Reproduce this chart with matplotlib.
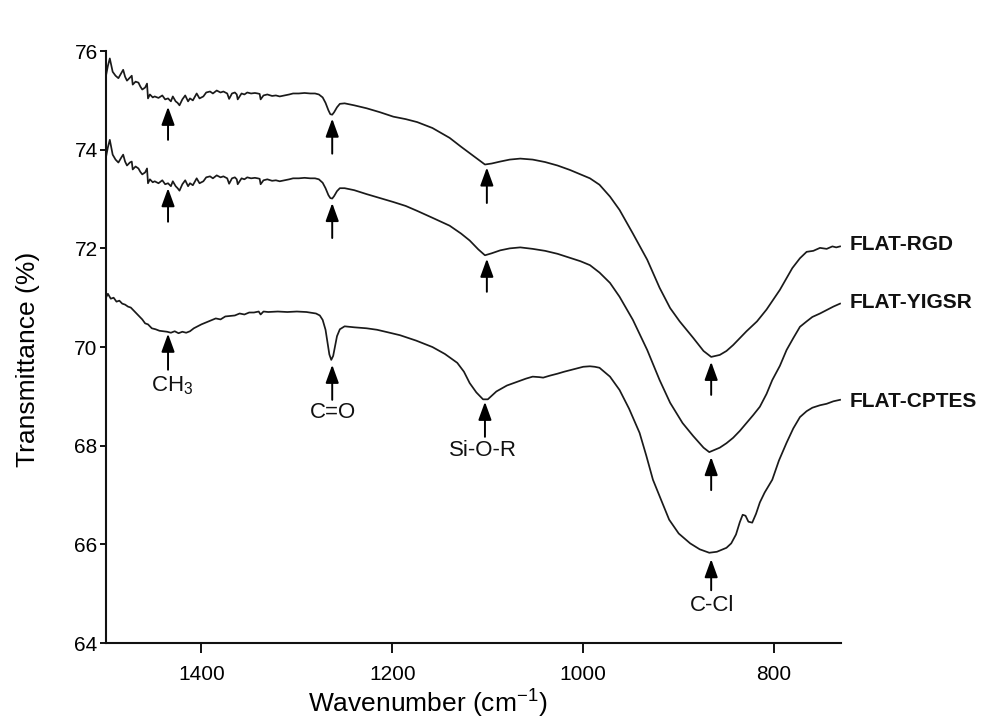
import matplotlib
matplotlib.use("Agg")
import matplotlib.pyplot as plt

plt.rcParams['font.family'] = ['Liberation Sans', 'DejaVu Sans']
plt.rcParams['mathtext.fontset'] = 'custom'
plt.rcParams['mathtext.rm'] = 'Liberation Sans'
plt.rcParams['mathtext.it'] = 'Liberation Sans:italic'
plt.rcParams['mathtext.bf'] = 'Liberation Sans:bold'

# ---------------- data ----------------
wn_rgd = [1500, 1498, 1496, 1493, 1490, 1487, 1484, 1482, 1480, 1478, 1475, 1473, 1472, 1469,
          1466, 1464, 1462, 1459, 1457, 1456, 1454, 1451, 1449, 1445, 1441, 1438, 1435, 1432,
          1430, 1427, 1425, 1423, 1420, 1417, 1414, 1412, 1409, 1405, 1402, 1398, 1395, 1391,
          1388, 1384, 1380, 1377, 1373, 1371, 1368, 1365, 1363, 1362, 1358, 1355, 1352, 1348,
          1344, 1341, 1339, 1338, 1335, 1331, 1326, 1322, 1318, 1313, 1308, 1304, 1298, 1292,
          1286, 1281, 1277, 1273, 1270, 1267, 1265, 1263, 1261, 1258, 1255, 1250, 1240, 1227,
          1213, 1199, 1186, 1174, 1158, 1140, 1128, 1119, 1110, 1103, 1096, 1087, 1077, 1066,
          1053, 1040, 1027, 1014, 1003, 993, 983, 972, 962, 948, 933, 920, 909, 899, 885, 874,
          866, 857, 850, 843, 836, 829, 818, 808, 794, 781, 773, 766, 759, 752, 745, 739, 735, 731]
t_rgd = [75.50, 75.70, 75.85, 75.58, 75.50, 75.45, 75.55, 75.62, 75.48, 75.40, 75.46, 75.50, 75.32, 75.38,
         75.36, 75.28, 75.22, 75.26, 75.34, 75.04, 75.12, 75.06, 75.08, 75.05, 75.10, 75.02, 75.04, 74.98,
         75.08, 74.98, 74.95, 74.90, 75.02, 75.10, 74.98, 75.04, 75.00, 75.14, 75.04, 75.08, 75.16, 75.18,
         75.14, 75.20, 75.16, 75.18, 75.14, 75.03, 75.14, 75.16, 75.12, 75.02, 75.14, 75.12, 75.16, 75.14,
         75.15, 75.14, 75.13, 75.02, 75.10, 75.12, 75.09, 75.10, 75.08, 75.10, 75.12, 75.14, 75.14, 75.15,
         75.14, 75.14, 75.12, 75.06, 74.95, 74.80, 74.72, 74.71, 74.76, 74.86, 74.93, 74.94, 74.90, 74.84,
         74.76, 74.67, 74.62, 74.56, 74.44, 74.24, 74.06, 73.93, 73.80, 73.70, 73.72, 73.76, 73.80, 73.82,
         73.80, 73.75, 73.68, 73.59, 73.50, 73.42, 73.29, 73.05, 72.78, 72.30, 71.77, 71.20, 70.79, 70.52, 70.19, 69.92,
         69.80, 69.84, 69.92, 70.04, 70.18, 70.32, 70.52, 70.76, 71.16, 71.60, 71.80, 71.93, 71.95, 72.01, 71.99, 72.04, 72.02, 72.04]

wn_yigsr = [1500, 1498, 1496, 1493, 1490, 1487, 1484, 1482, 1480, 1478, 1475, 1473, 1472, 1469,
            1466, 1464, 1462, 1459, 1457, 1456, 1454, 1451, 1449, 1445, 1441, 1438, 1435, 1432,
            1430, 1427, 1425, 1423, 1420, 1417, 1414, 1412, 1409, 1405, 1402, 1398, 1395, 1391,
            1388, 1384, 1380, 1377, 1373, 1371, 1368, 1365, 1363, 1362, 1358, 1355, 1352, 1348,
            1344, 1341, 1339, 1338, 1335, 1331, 1326, 1322, 1318, 1313, 1308, 1304, 1298, 1292,
            1286, 1281, 1277, 1273, 1270, 1267, 1265, 1263, 1261, 1258, 1255, 1250, 1240, 1227,
            1213, 1199, 1186, 1174, 1158, 1140, 1128, 1119, 1110, 1103, 1096, 1087, 1077, 1066,
            1053, 1040, 1027, 1014, 1003, 993, 983, 972, 962, 948, 933, 920, 909, 896, 885, 874,
            868, 857, 850, 843, 836, 829, 822, 815, 808, 802, 794, 787, 780, 773, 766, 760, 752, 745, 738, 731]
t_yigsr = [73.85, 74.05, 74.20, 73.90, 73.80, 73.74, 73.84, 73.90, 73.76, 73.68, 73.74, 73.76, 73.60, 73.66,
           73.62, 73.55, 73.50, 73.54, 73.62, 73.32, 73.40, 73.34, 73.36, 73.32, 73.38, 73.30, 73.32, 73.26,
           73.36, 73.26, 73.22, 73.17, 73.30, 73.38, 73.26, 73.32, 73.28, 73.42, 73.32, 73.36, 73.44, 73.46,
           73.42, 73.48, 73.44, 73.46, 73.42, 73.31, 73.42, 73.44, 73.40, 73.30, 73.42, 73.40, 73.44, 73.42,
           73.43, 73.42, 73.41, 73.30, 73.38, 73.40, 73.37, 73.38, 73.36, 73.38, 73.40, 73.42, 73.42, 73.43,
           73.42, 73.42, 73.40, 73.33, 73.22, 73.08, 73.02, 73.01, 73.06, 73.16, 73.22, 73.22, 73.18, 73.10,
           73.02, 72.94, 72.86, 72.76, 72.62, 72.46, 72.30, 72.16, 71.98, 71.86, 71.90, 71.96, 72.00, 72.02,
           71.99, 71.95, 71.89, 71.81, 71.74, 71.66, 71.51, 71.30, 71.02, 70.55, 69.94, 69.33, 68.87, 68.46, 68.20, 67.96,
           67.87, 67.96, 68.05, 68.16, 68.30, 68.46, 68.62, 68.79, 69.05, 69.33, 69.62, 69.94, 70.18, 70.41, 70.52, 70.61, 70.68, 70.75, 70.82, 70.88]

wn_cptes = [1500, 1498, 1495, 1492, 1489, 1486, 1483, 1480, 1477, 1474, 1471, 1468, 1465, 1462, 1459, 1456,
            1452, 1448, 1444, 1440, 1436, 1432, 1428, 1424, 1420, 1416, 1412, 1408, 1404, 1400, 1395, 1390,
            1385, 1380, 1375, 1370, 1365, 1360, 1355, 1350, 1345, 1340, 1338, 1335, 1330, 1320, 1310, 1300,
            1290, 1280, 1276, 1273, 1270, 1268, 1266, 1264, 1262, 1260, 1258, 1255, 1250, 1240, 1227, 1216,
            1205, 1192, 1175, 1158, 1145, 1132, 1125, 1119, 1112, 1105, 1100, 1091, 1080, 1070, 1060, 1053,
            1046, 1042, 1035, 1027, 1020, 1010, 1000, 993, 988, 983, 972, 962, 952, 941, 934, 927, 918, 910,
            900, 888, 878, 868, 860, 850, 845, 840, 836, 833, 830, 827, 823, 819, 815, 810, 806, 802, 795,
            787, 780, 773, 766, 760, 752, 745, 738, 731]
t_cptes = [71.00, 71.08, 70.98, 71.00, 70.92, 70.94, 70.88, 70.86, 70.82, 70.80, 70.74, 70.68, 70.62, 70.56, 70.48, 70.46,
           70.38, 70.36, 70.33, 70.32, 70.31, 70.29, 70.32, 70.28, 70.31, 70.29, 70.32, 70.38, 70.42, 70.46, 70.50, 70.54,
           70.58, 70.56, 70.62, 70.63, 70.64, 70.68, 70.66, 70.70, 70.70, 70.72, 70.66, 70.72, 70.71, 70.72, 70.71, 70.72,
           70.71, 70.68, 70.64, 70.55, 70.35, 70.10, 69.85, 69.74, 69.82, 70.02, 70.22, 70.36, 70.42, 70.40, 70.38, 70.35,
           70.30, 70.24, 70.13, 70.00, 69.86, 69.68, 69.50, 69.27, 69.08, 68.94, 68.94, 69.10, 69.22, 69.29, 69.36, 69.40,
           69.39, 69.38, 69.42, 69.46, 69.50, 69.55, 69.60, 69.61, 69.60, 69.58, 69.40, 69.13, 68.75, 68.26, 67.80, 67.31, 66.88, 66.50,
           66.22, 66.02, 65.90, 65.83, 65.85, 65.93, 66.02, 66.20, 66.45, 66.60, 66.58, 66.46, 66.44, 66.62, 66.85, 67.05, 67.18, 67.31, 67.70,
           68.06, 68.35, 68.58, 68.70, 68.77, 68.82, 68.85, 68.90, 68.93]

series_names = ['FLAT-RGD', 'FLAT-YIGSR', 'FLAT-CPTES']
series_label_y = [72.07, 70.90, 68.89]

# arrows: (wavenumber, tip, tail)
arrow_wn = [1435, 1263, 1101, 866,
            1435, 1263, 1101, 866,
            1435, 1263, 1103, 866]
arrow_tip = [74.87, 74.63, 73.64, 69.70,
             73.22, 72.92, 71.79, 67.77,
             70.27, 69.64, 68.89, 65.70]
arrow_tail = [74.20, 73.92, 72.92, 69.03,
              72.54, 72.21, 71.12, 67.10,
              69.54, 68.93, 68.18, 65.07]

band_labels = ['CH$_3$', 'C=O', 'Si-O-R', 'C-Cl']
band_label_wn = [1431, 1262, 1105, 865]
band_label_y = [69.22, 68.67, 67.91, 64.77]

xticks = [1400, 1200, 1000, 800]
yticks = [64, 66, 68, 70, 72, 74, 76]

# ---------------- plot ----------------
fig = plt.figure(figsize=(9.85, 7.2), dpi=100)
ax = fig.add_axes([0.1076, 0.1069, 0.7462, 0.8222])

lc = '#1a1a1a'
for wn, t in [(wn_rgd, t_rgd), (wn_yigsr, t_yigsr), (wn_cptes, t_cptes)]:
    ax.plot(wn, t, color=lc, lw=1.25)

ax.set_xlim(1500, 730)
ax.set_ylim(64, 76)
ax.set_xticks(xticks)
ax.set_yticks(yticks)

for s in ['top', 'right']:
    ax.spines[s].set_visible(False)
for s in ['left', 'bottom']:
    ax.spines[s].set_linewidth(1.5)
    ax.spines[s].set_color('#111111')

ax.tick_params(axis='x', direction='out', length=7, width=1.3, labelsize=15, pad=9)
ax.tick_params(axis='y', direction='out', length=4.5, width=1.3, labelsize=15, pad=1.5)

ax.set_xlabel('Wavenumber (cm$^{-1}$)', fontsize=19)
ax.set_ylabel('Transmittance (%)', fontsize=19)
ax.xaxis.set_label_coords(0.437, -0.076)
ax.yaxis.set_label_coords(-0.09, 0.48)

for x, tip, tail in zip(arrow_wn, arrow_tip, arrow_tail):
    ax.annotate('', xy=(x, tip), xytext=(x, tail),
                arrowprops=dict(arrowstyle='-|>,head_length=0.55,head_width=0.2',
                                mutation_scale=20, color='black', lw=1.4,
                                shrinkA=0, shrinkB=0))

for lab, x, y in zip(band_labels, band_label_wn, band_label_y):
    ax.text(x, y, lab, ha='center', va='center', fontsize=16, color='#111111')

for name, y in zip(series_names, series_label_y):
    ax.text(721, y, name, ha='left', va='center', fontsize=15, fontweight='bold',
            color='#111111', clip_on=False)

fig.savefig('out.png', dpi=100)
